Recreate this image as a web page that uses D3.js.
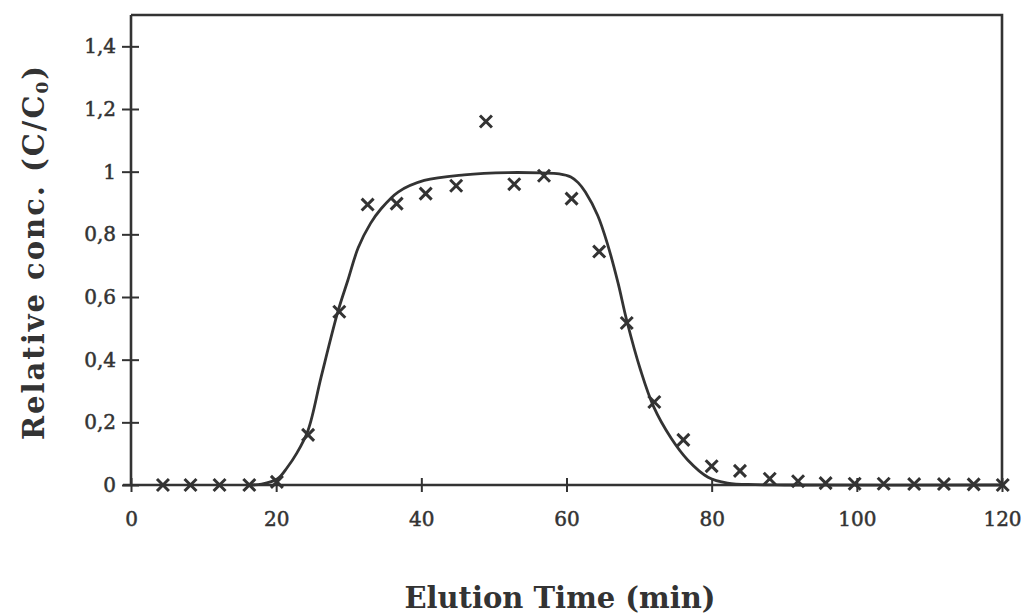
<!DOCTYPE html>
<html>
<head>
<meta charset="utf-8">
<script src="https://cdn.jsdelivr.net/npm/d3@7"></script>
<style>
  html, body { margin: 0; padding: 0; background: #fff; }
  svg { display: block; }
</style>
</head>
<body>
<svg id="chart" width="1022" height="614"></svg>
<script>
// Measured points (x marks)
const measTime = [4.4, 8.2, 12.2, 16.3, 20.1, 24.4, 28.7, 32.6, 36.6, 40.6, 44.8, 48.9, 52.8, 56.9, 60.7,
                  64.5, 68.3, 72.1, 76.1, 80, 83.9, 88, 91.9, 95.7, 99.7, 103.7, 107.9, 112, 116.1, 120.1];
const measConc = [0, 0, 0, 0, 0.01, 0.16, 0.553, 0.895, 0.898, 0.93, 0.955, 1.16, 0.96, 0.987, 0.914,
                  0.745, 0.517, 0.265, 0.144, 0.06, 0.045, 0.02, 0.012, 0.006, 0.004, 0.004, 0.003, 0.003, 0.002, 0];
// Fitted curve (solid line)
const fitTime = [16, 18, 20.2, 21.5, 22.8, 24.4, 26.2, 28.5, 29.9, 31.3, 33, 34.4, 36.8, 40.4, 45.9, 52, 56.5,
                 59, 60.6, 61.6, 62.6, 64.3, 65.7, 67.1, 68.3, 70.2, 72, 74.4, 76.7, 79.5, 82.2, 86, 90, 120];
const fitConc = [0, 0.003, 0.02, 0.055, 0.1, 0.175, 0.345, 0.553, 0.655, 0.757, 0.835, 0.88, 0.935, 0.972, 0.99, 0.997, 0.996,
                 0.993, 0.983, 0.965, 0.935, 0.86, 0.765, 0.645, 0.525, 0.367, 0.25, 0.15, 0.08, 0.025, 0.006, 0.001, 0, 0];
const xTicks = [0, 20, 40, 60, 80, 100, 120];
const yTicks = [0, 0.2, 0.4, 0.6, 0.8, 1, 1.2, 1.4];
const yTickLabels = ["0", "0,2", "0,4", "0,6", "0,8", "1", "1,2", "1,4"];

const ink = "#333";
const svg = d3.select("#chart");
const x = d3.scaleLinear().domain([0, 120]).range([131, 1002]);
const y = d3.scaleLinear().domain([0, 1.5]).range([485, 15]);

// frame (top and right)
svg.append("path")
  .attr("d", `M${x(0)},${y(1.5)} L${x(120)},${y(1.5)} L${x(120)},${y(0)}`)
  .attr("fill", "none").attr("stroke", ink).attr("stroke-width", 2.6);

// y axis
const yAxis = svg.append("g").attr("transform", `translate(${x(0)},0)`)
  .call(d3.axisLeft(y).tickValues(yTicks).tickSize(9).tickPadding(6)
        .tickFormat((d, i) => yTickLabels[i]));
yAxis.select(".domain").attr("stroke", ink).attr("stroke-width", 2.6)
  .attr("d", `M0,${y(1.5)}V${y(0)}`);
yAxis.selectAll(".tick line").attr("x1", 8).attr("x2", -9).attr("stroke", ink).attr("stroke-width", 2);
yAxis.selectAll(".tick text").attr("font-family", "DejaVu Serif").attr("font-size", 20)
  .attr("fill", ink).attr("stroke", ink).attr("stroke-width", 0.5).attr("x", -15);

// x axis
const xAxis = svg.append("g").attr("transform", `translate(0,${y(0)})`)
  .call(d3.axisBottom(x).tickValues(xTicks).tickSize(7).tickPadding(20).tickFormat(d3.format("d")));
xAxis.select(".domain").attr("stroke", ink).attr("stroke-width", 2.6)
  .attr("d", `M${x(0) - 8},0H${x(120)}`);
xAxis.selectAll(".tick line").attr("y1", -7).attr("y2", 7).attr("stroke", ink).attr("stroke-width", 2);
xAxis.selectAll(".tick text").attr("font-family", "DejaVu Serif").attr("font-size", 20)
  .attr("fill", ink).attr("stroke", ink).attr("stroke-width", 0.5);

// fitted curve
const fit = fitTime.map((t, i) => [t, fitConc[i]]);
svg.append("path").datum(fit)
  .attr("d", d3.line().x(d => x(d[0])).y(d => y(d[1])).curve(d3.curveCatmullRom.alpha(0.5)))
  .attr("fill", "none").attr("stroke", ink).attr("stroke-width", 2.8);

// measured marks
const meas = measTime.map((t, i) => [t, measConc[i]]);
svg.append("g").selectAll("path").data(meas).join("path")
  .attr("transform", d => `translate(${x(d[0])},${y(d[1])})`)
  .attr("d", d3.symbol().type(d3.symbolTimes).size(95))
  .attr("fill", "none").attr("stroke", ink).attr("stroke-width", 3);

// axis titles
svg.append("text").attr("x", 560).attr("y", 608).attr("text-anchor", "middle")
  .attr("font-family", "DejaVu Serif").attr("font-weight", "bold").attr("font-size", 29)
  .attr("fill", ink).text("Elution Time (min)");

const yt = svg.append("text").attr("transform", "translate(44,252) rotate(-90)")
  .attr("text-anchor", "middle").attr("letter-spacing", 2)
  .attr("font-family", "DejaVu Serif").attr("font-weight", "bold").attr("font-size", 29)
  .attr("fill", ink);
yt.append("tspan").text("Relative conc. (C/C");
yt.append("tspan").attr("font-size", 17).attr("dy", 4).text("0");
yt.append("tspan").attr("dy", -4).text(")");
</script>
</body>
</html>
